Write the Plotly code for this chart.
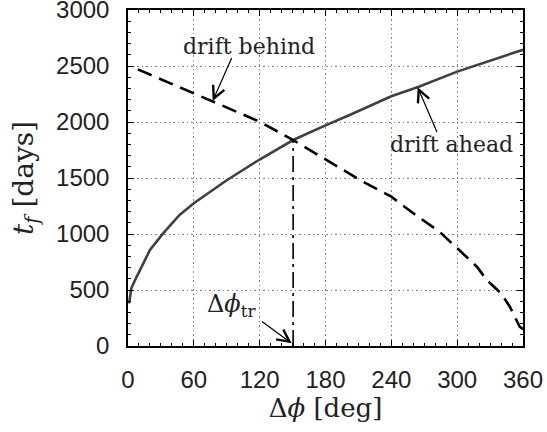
import plotly.graph_objects as go

# drift ahead (solid)
phi_ahead = [1, 3, 8, 20, 32, 47, 60, 90, 120, 150.5, 180, 202, 240, 265, 300, 330, 360]
tf_ahead = [380, 515, 620, 857, 1006, 1170, 1274, 1480, 1665, 1839, 1970, 2062, 2230, 2315, 2450, 2550, 2645]

# drift behind (dashed)
phi_behind = [9, 40, 75, 120, 150.5, 184, 214, 240, 260, 284, 300, 318, 327, 340, 348, 357, 360]
tf_behind = [2470, 2340, 2196, 2003, 1839, 1646, 1467, 1333, 1185, 1020, 872, 708, 589, 470, 351, 172, 150]

# transition
phi_tr = 150.5
tf_tr = 1839

x_ticks = [0, 60, 120, 180, 240, 300, 360]
y_ticks = [0, 500, 1000, 1500, 2000, 2500, 3000]

SERIF = "DejaVu Serif"
SANS = "Liberation Sans"

fig = go.Figure()
fig.add_trace(go.Scatter(x=phi_ahead, y=tf_ahead, mode="lines",
                         line=dict(color="#404040", width=2.6), showlegend=False))
fig.add_trace(go.Scatter(x=phi_behind, y=tf_behind, mode="lines",
                         line=dict(color="black", width=2.6, dash="15px,8px"), showlegend=False))
fig.add_trace(go.Scatter(x=[phi_tr, phi_tr], y=[0, tf_tr], mode="lines",
                         line=dict(color="black", width=1.6, dash="16px,5px,3px,5px"), showlegend=False))

axis_common = dict(
    showline=True, linecolor="black", linewidth=1.5, mirror="allticks",
    ticks="inside", ticklen=6, tickwidth=1.2, tickcolor="black",
    showgrid=True, gridcolor="#808080", gridwidth=1, griddash="1.5px,3px",
    zeroline=False, automargin=False, ticklabeloverflow="allow",
    tickfont=dict(family=SANS, size=24, color="#222"),
)

fig.update_xaxes(range=[0, 360], tickvals=x_ticks, ticktext=[str(v) for v in x_ticks],
                 minor=dict(dtick=10, ticks="inside", ticklen=3, tickcolor="black", showgrid=False),
                 ticklabelstandoff=11,
                 title=dict(text="Δ<i>ϕ</i> [deg]", font=dict(family=SERIF, size=26, color="#222"), standoff=0),
                 **axis_common)
fig.update_yaxes(range=[0, 3000], tickvals=y_ticks, ticktext=[str(v) for v in y_ticks],
                 minor=dict(dtick=100, ticks="inside", ticklen=3, tickcolor="black", showgrid=False),
                 ticklabelstandoff=12,
                 title=dict(text="<i>t</i><sub><i>f</i></sub> [days]", font=dict(family=SERIF, size=28, color="#222"), standoff=14),
                 **axis_common)

txt_font = dict(family=SERIF, size=22, color="#222")
fig.add_annotation(x=110.3, y=2675, text="drift behind", showarrow=False, font=txt_font,
                   xanchor="center", yanchor="middle")
fig.add_annotation(x=294.8, y=1800, text="drift ahead", showarrow=False, font=txt_font,
                   xanchor="center", yanchor="middle")
fig.add_annotation(x=94, y=360, text="Δ<i>ϕ</i><sub>tr</sub>", showarrow=False,
                   font=dict(family=SERIF, size=24, color="#222"), xanchor="center", yanchor="middle")

arrow_style = dict(showarrow=True, text=" ", arrowhead=5, arrowsize=2.0, arrowwidth=1.2,
                   arrowcolor="black", axref="x", ayref="y", standoff=0, startstandoff=0,
                   font=dict(size=2))
fig.add_annotation(x=77.2, y=2188, ax=95.7, ay=2598, **arrow_style)
fig.add_annotation(x=264, y=2310, ax=282.8, ay=1884, **arrow_style)
fig.add_annotation(x=149.2, y=24, ax=120.3, ay=232, **arrow_style)

fig.update_layout(
    width=547, height=432,
    margin=dict(l=128, r=24, t=10, b=86),
    plot_bgcolor="white", paper_bgcolor="white",
)

fig.write_html("out.html")
